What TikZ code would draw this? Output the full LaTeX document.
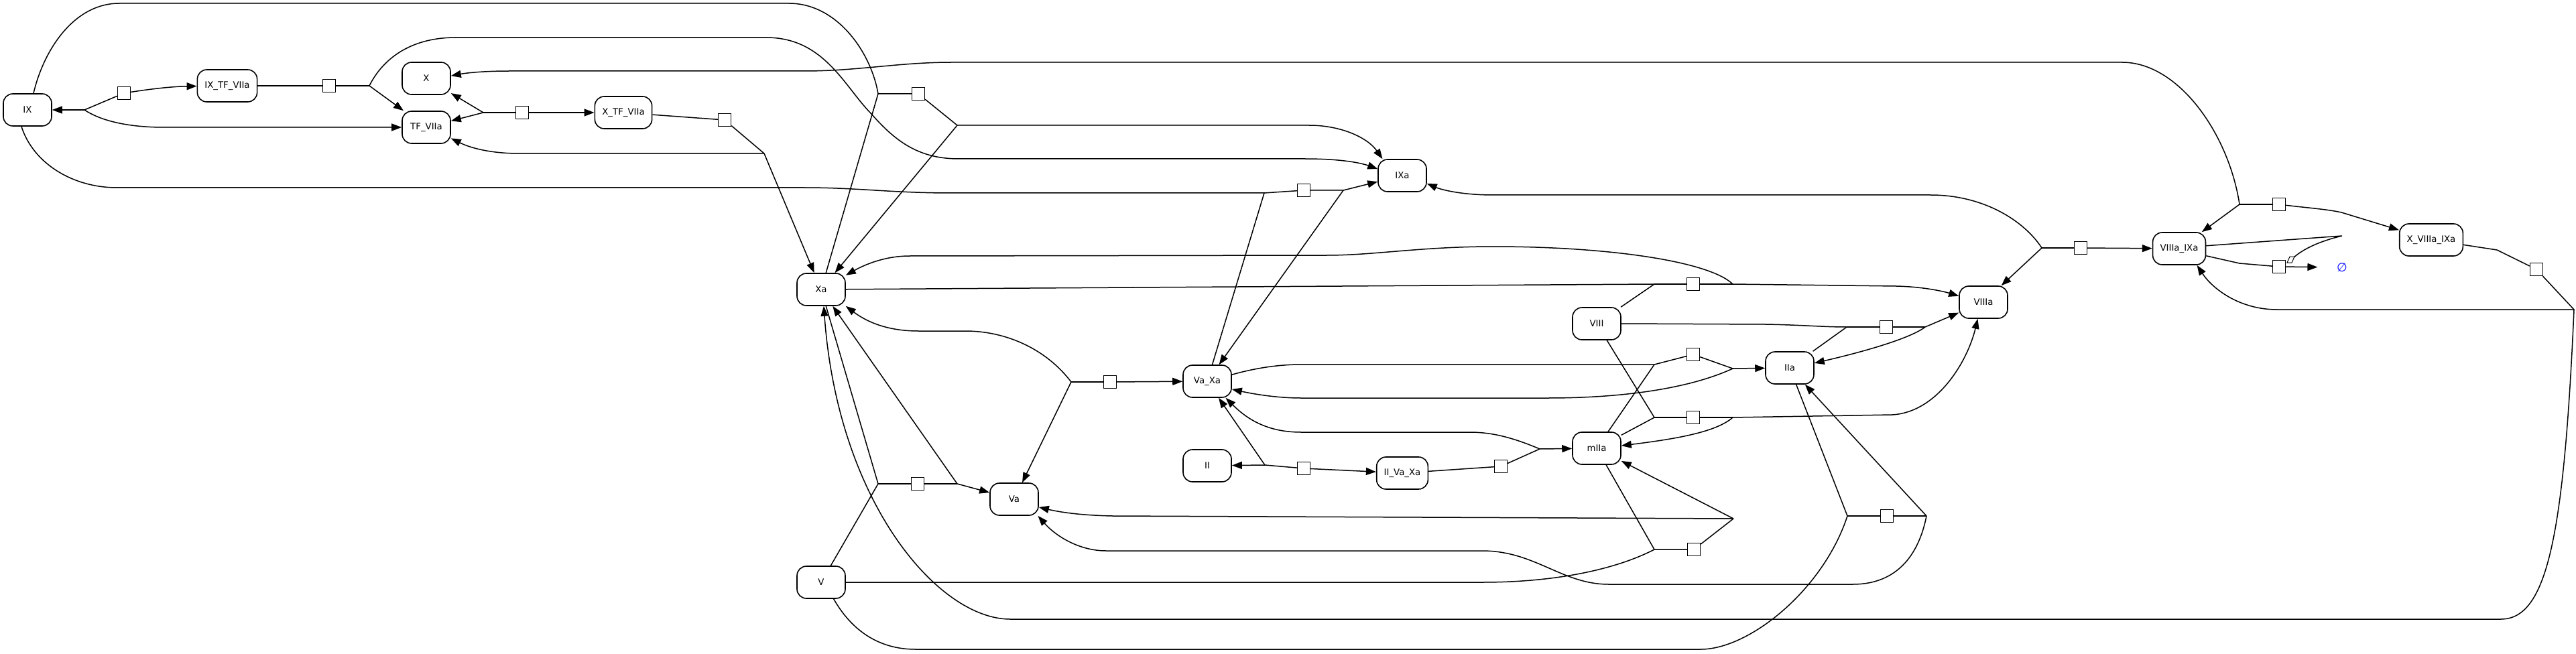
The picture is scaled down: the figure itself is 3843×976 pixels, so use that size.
\documentclass[tikz,border=0pt]{standalone}
\usepackage{fontspec}
\setmainfont{DejaVu Sans}
\usetikzlibrary{arrows.meta}
\begin{document}
\begin{tikzpicture}[x=1pt,y=-1pt,line width=1.5pt,
        sp/.style={draw,line width=1.6pt,rounded corners=14pt,minimum width=72pt,minimum height=48pt,inner xsep=11pt,font=\fontsize{13.3pt}{16pt}\selectfont},
        proc/.style={draw,fill=white,line width=1.4pt,minimum size=19pt,inner sep=0pt},
        >={Triangle[length=15pt,width=11pt]}]
        \useasboundingbox (0,0) rectangle (3843,976);
        \node[sp] (IX) at (41,164) {IX};
        \node[sp] (IXTF) at (339,128) {IX\_TF\_VIIa};
        \node[sp] (X) at (636,117) {X};
        \node[sp] (TF) at (636,190) {TF\_VIIa};
        \node[sp] (XTF) at (930,168) {X\_TF\_VIIa};
        \node[sp] (IXa) at (2092,262) {IXa};
        \node[sp] (Xa) at (1225,432) {Xa};
        \node[sp] (VIIIa) at (2959,451) {VIIIa};
        \node[sp] (VIIIaIXa) at (3251,371) {VIIIa\_IXa};
        \node[sp] (XVIIIaIXa) at (3627,358) {X\_VIIIa\_IXa};
        \node[sp] (VIII) at (2382,483) {VIII};
        \node[sp] (VaXa) at (1801,569) {Va\_Xa};
        \node[sp] (IIa) at (2670,549) {IIa};
        \node[sp] (mIIa) at (2382,669) {mIIa};
        \node[sp] (II) at (1801,695) {II};
        \node[sp] (IIVaXa) at (2092,706) {II\_Va\_Xa};
        \node[sp] (Va) at (1513,745) {Va};
        \node[sp] (V) at (1225,869) {V};
        \node[text=blue,inner xsep=28pt,font=\fontsize{18pt}{20pt}\selectfont] (empty) at (3494,399) {∅};
        \foreach \n/\x/\y in {r1/185/139,r2/491/128,r3/779/168,r4/1081/179,r5/1370/140,r6/1945/284,r7/1656/570,r8/1369/722,r9/1945/699,r10/2239/696,r11/2526/529,r12/2526/424,r13/2814/488,r14/2526/623,r15/2527/820,r16/2815/770,r17/3400/305,r18/3784/402,r19/3104/370,r20/3400/398}
            \node[proc] (\n) at (\x,\y) {};
        \foreach \n/\x/\y in {r1a/126/164,r2b/551/128,r3a/721/168,r4b/1140/229,r5a/1310/140,r5b/1428/187,r6a/1886/288,r6b/2004/284,r7a/1598/570,r8a/1310/722,r8b/1428/722,r9a/1887/694,r10b/2297/670,r11a/2468/544,r11b/2585/550,r12a/2468/424,r12b/2585/424,r13a/2755/488,r13b/2872/488,r14a/2468/623,r14b/2585/623,r15a/2468/820,r15b/2586/774,r16a/2756/770,r16b/2874/770,r17a/3341/305,r18b/3840/462,r19a/3046/370}
            \coordinate (\n) at (\x,\y);

        \draw[->] (r1a) -- (IX);
        \draw[->] (r1a) .. controls (150,180) and (190,190) .. (245,190) -- (TF);
        \draw (r1a) -- (r1);
        \draw[->] (r1) .. controls (230,132) and (260,129) .. (IXTF);

        \draw (IXTF) -- (r2) -- (r2b);
        \draw[->] (r2b) -- (TF);
        \draw[->] (r2b) .. controls (570,90) and (610,56) .. (680,56) -- (1143,56) .. controls (1230,56) and (1260,130) .. (1300,170) .. controls (1335,210) and (1370,237) .. (1430,237) -- (1947,237) .. controls (2000,237) and (2030,243) .. (IXa.165);

        \draw[->] (r3a) -- (X);
        \draw[->] (r3a) -- (TF);
        \draw (r3a) -- (r3);
        \draw[->] (r3) -- (XTF);

        \draw (XTF) -- (r4) -- (r4b);
        \draw[->] (r4b) -- (774,229) .. controls (730,229) and (700,220) .. (TF.-24);
        \draw[->] (r4b) -- (Xa);

        \draw (IX.70) .. controls (65,75) and (110,5) .. (178,5) -- (1177,5) .. controls (1250,5) and (1300,80) .. (r5a);
        \draw (Xa) -- (r5a);
        \draw (r5a) -- (r5) -- (r5b);
        \draw[->] (r5b) -- (1953,187) .. controls (2000,187) and (2040,205) .. (IXa.140);
        \draw[->] (r5b) -- (Xa);

        \draw (IX.-110) .. controls (50,245) and (110,280) .. (174,280) -- (1200,280) .. controls (1280,280) and (1330,288) .. (1420,288) -- (r6a);
        \draw (VaXa) -- (r6a);
        \draw (r6a) -- (r6) -- (r6b);
        \draw[->] (r6b) -- (IXa);
        \draw[->] (r6b) -- (VaXa);

        \draw[->] (r7a) .. controls (1560,520) and (1500,494) .. (1440,494) -- (1370,494) .. controls (1320,494) and (1290,478) .. (Xa.-34);
        \draw[->] (r7a) -- (Va);
        \draw (r7a) -- (r7);
        \draw[->] (r7) -- (VaXa);

        \draw (V) -- (r8a);
        \draw (Xa) -- (r8a);
        \draw (r8a) -- (r8) -- (r8b);
        \draw[->] (r8b) -- (Va);
        \draw[->] (r8b) -- (Xa);

        \draw[->] (r9a) -- (II);
        \draw[->] (r9a) -- (VaXa);
        \draw (r9a) -- (r9);
        \draw[->] (r9) -- (IIVaXa);

        \draw (IIVaXa) -- (r10) -- (r10b);
        \draw[->] (r10b) -- (mIIa);
        \draw[->] (r10b) .. controls (2250,650) and (2220,645) .. (2192,645) -- (1941,645) .. controls (1890,645) and (1860,625) .. (VaXa.-42);

        \draw (VaXa.15) .. controls (1870,550) and (1905,544) .. (1941,544) -- (r11a);
        \draw (mIIa) -- (r11a);
        \draw (r11a) -- (r11) -- (r11b);
        \draw[->] (r11b) -- (IIa);
        \draw[->] (r11b) .. controls (2520,580) and (2420,594) .. (2309,594) -- (1941,594) .. controls (1905,594) and (1870,588) .. (VaXa.-18);

        \draw (Xa) -- (r12a);
        \draw (VIII) -- (r12a);
        \draw (r12a) -- (r12) -- (r12b);
        \draw[->] (r12b) -- (2829,427) .. controls (2870,428) and (2900,435) .. (VIIIa.166);
        \draw[->] (r12b) .. controls (2550,390) and (2400,368) .. (2228,368) .. controls (2120,368) and (2050,381) .. (1979,381) -- (1357,382) .. controls (1320,382) and (1290,395) .. (Xa.30);

        \draw (VIII.east) -- (2634,484) .. controls (2690,485) and (2720,488) .. (r13a);
        \draw (IIa) -- (r13a);
        \draw (r13a) -- (r13) -- (r13b);
        \draw[->] (r13b) -- (VIIIa);
        \draw[->] (r13b) .. controls (2850,505) and (2780,525) .. (IIa.11);

        \draw (VIII) -- (r14a);
        \draw (mIIa) -- (r14a);
        \draw (r14a) -- (r14) -- (r14b);
        \draw[->] (r14b) -- (2823,619) .. controls (2890,615) and (2935,540) .. (VIIIa.-109);
        \draw[->] (r14b) .. controls (2560,645) and (2500,655) .. (mIIa.6);

        \draw (mIIa) -- (r15a);
        \draw (V.east) -- (2211,869) .. controls (2320,869) and (2410,850) .. (r15a);
        \draw (r15a) -- (r15) -- (r15b);
        \draw[->] (r15b) -- (mIIa);
        \draw[->] (r15b) -- (1660,770) .. controls (1610,769) and (1580,764) .. (Va.-18);

        \draw (IIa) -- (r16a);
        \draw (V.-53) .. controls (1270,940) and (1310,969) .. (1366,969) -- (2537,969) .. controls (2610,969) and (2720,880) .. (r16a);
        \draw (r16a) -- (r16) -- (r16b);
        \draw[->] (r16b) -- (IIa);
        \draw[->] (r16b) .. controls (2860,840) and (2820,872) .. (2764,872) -- (2400,872) .. controls (2330,872) and (2290,822) .. (2211,822) -- (1650,822) .. controls (1610,822) and (1575,800) .. (Va.-35);

        \draw[->] (r17a) .. controls (3325,200) and (3250,93) .. (3166,93) -- (1420,93) .. controls (1340,93) and (1280,106) .. (1200,106) -- (760,106) .. controls (720,106) and (695,109) .. (X.6);
        \draw[->] (r17a) -- (VIIIaIXa);
        \draw (r17a) -- (r17);
        \draw[->] (r17) .. controls (3440,310) and (3470,312) .. (3493,317) -- (XVIIIaIXa);

        \draw (XVIIIaIXa) -- (3725,373) -- (r18) -- (r18b);
        \draw[->] (r18b) -- (3397,462) .. controls (3340,462) and (3300,430) .. (VIIIaIXa.-43);
        \draw[->] (r18b) .. controls (3825,800) and (3800,924) .. (3731,924) -- (1507,924) .. controls (1400,924) and (1250,750) .. (Xa.-81);

        \draw[->] (r19a) -- (VIIIa);
        \draw[->] (r19a) .. controls (3020,330) and (2960,291) .. (2880,291) -- (2228,291) .. controls (2180,291) and (2150,283) .. (IXa.-18);
        \draw (r19a) -- (r19);
        \draw[->] (r19) -- (VIIIaIXa);

        \draw (VIIIaIXa.-15) -- (3341,393) -- (r20);
        \draw[->] (r20) -- (empty);
        \draw (VIIIaIXa.6) -- (3494,352) .. controls (3460,360) and (3435,372) .. (3421,385);
        \draw[fill=white,line width=1pt] (3412,392) -- (3416,383) -- (3423,383) -- (3419,392) -- cycle;
\end{tikzpicture}
\end{document}
